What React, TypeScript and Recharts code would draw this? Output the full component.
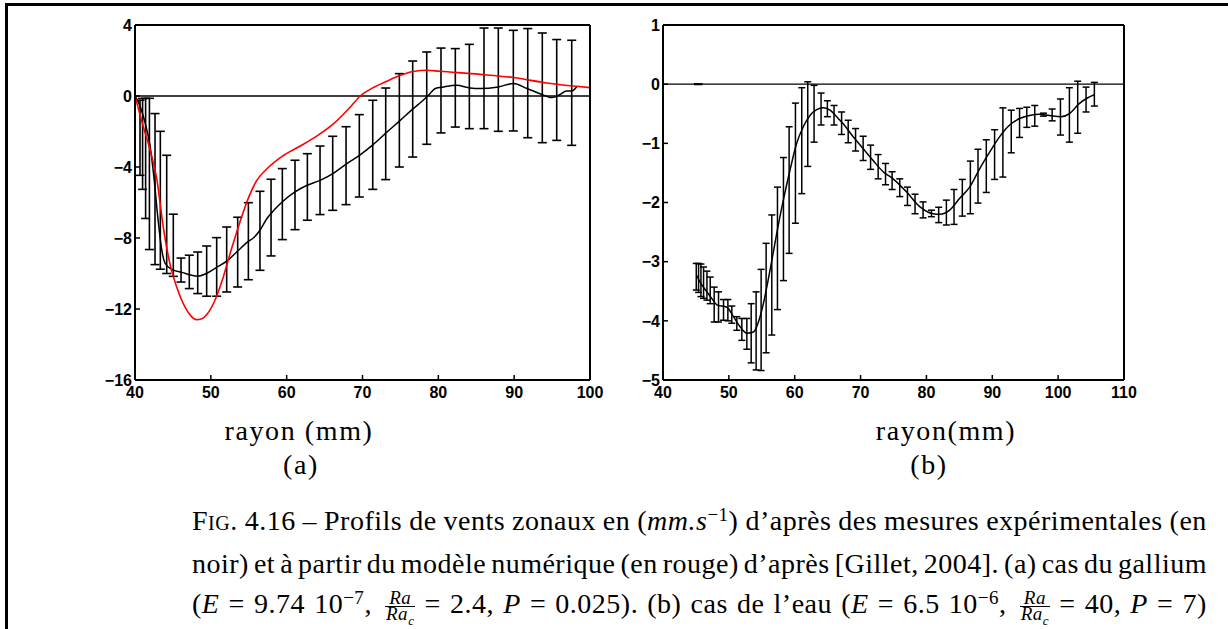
import React from "react";
import { ComposedChart, Line, Scatter, ErrorBar, XAxis, YAxis, ReferenceLine } from "recharts";

// panel (a): gallium
const aXTicks = [40, 50, 60, 70, 80, 90, 100];
const aYTicks = [-16, -12, -8, -4, 0, 4];

const aMeasX = [40, 40.5, 41, 41.5, 42, 42.5, 43, 43.5, 44, 44.8, 46.3, 47.5, 48.3, 49.4, 50.8, 52.1, 53.5, 54.9, 55.6, 56.5, 57.4, 58.4, 59.4, 61.1, 62.7, 64.4, 66.1, 67.8, 69.6, 71.4, 73.1, 74.9, 76.7, 78, 78.7, 79.6, 80.7, 82.4, 84.2, 85.5, 87.9, 89.9, 91.7, 93.4, 95, 96, 96.9, 97.6, 98.3];
const aMeasY = [0, -0.4, -1, -1.8, -2.85, -4.6, -6.8, -8.6, -9.45, -9.75, -9.95, -10.1, -10.15, -10, -9.64, -9.3, -8.75, -8.2, -8, -7.55, -6.9, -6.4, -5.97, -5.4, -5.03, -4.75, -4.37, -3.85, -3.34, -2.74, -2.08, -1.4, -0.71, -0.24, 0.04, 0.42, 0.51, 0.6, 0.45, 0.42, 0.51, 0.7, 0.42, 0.13, -0.09, 0.07, 0.28, 0.28, 0.55];

const aModelX = [40, 41.1, 42, 42.9, 43.7, 44.6, 45.5, 46.6, 47.4, 48.1, 48.8, 49.5, 50.5, 51.6, 52.7, 53.8, 55, 56, 57.4, 59.4, 61.8, 64, 66.2, 68.4, 69.7, 71.4, 73.2, 74.9, 76.7, 78.5, 80.2, 85.5, 89.9, 94.3, 100];
const aModelY = [0, -1.74, -3.06, -4.75, -7.3, -9.44, -10.76, -11.89, -12.4, -12.6, -12.55, -12.3, -11.55, -10.25, -8.65, -7.15, -5.7, -4.8, -4.1, -3.4, -2.82, -2.25, -1.56, -0.62, 0, 0.47, 0.83, 1.15, 1.38, 1.45, 1.39, 1.22, 1.04, 0.73, 0.47];

const aBarX = [40.66, 41, 41.4, 41.9, 42.64, 43.34, 44.18, 45.05, 46.07, 47.16, 48.27, 49.45, 50.77, 52.09, 53.54, 54.95, 56.48, 57.94, 59.43, 61.1, 62.73, 64.4, 66.07, 67.83, 69.58, 71.35, 73.06, 74.86, 76.62, 78.47, 80.35, 82.24, 84.09, 86.02, 87.91, 89.89, 91.79, 93.71, 95.61, 97.59];
const aBarLow = [-4.47, -5.26, -6.9, -8.65, -9.5, -9.76, -10, -10.16, -10.48, -10.85, -11.13, -11.28, -11.28, -11.04, -10.76, -10.35, -9.82, -9.01, -8.09, -7.53, -7, -6.68, -6.44, -6.12, -5.69, -5.26, -4.71, -4, -3.44, -2.72, -2.08, -1.75, -1.84, -1.84, -1.99, -1.97, -2.35, -2.63, -2.5, -2.78];
const aBarHigh = [-0.24, -0.14, -0.13, -0.13, -0.99, -1.99, -3.34, -6.66, -9.13, -8.97, -8.79, -8.45, -7.98, -7.38, -6.83, -6.01, -5.37, -4.69, -4.09, -3.62, -3.25, -2.82, -2.27, -1.73, -1.05, -0.24, 0.45, 1.26, 1.97, 2.48, 2.7, 2.67, 2.91, 3.83, 3.83, 3.7, 3.8, 3.55, 3.18, 3.14];

// panel (b): eau
const bXTicks = [40, 50, 60, 70, 80, 90, 100, 110];
const bYTicks = [-5, -4, -3, -2, -1, 0, 1];

const bMeasX = [45.1, 45.7, 46.67, 47.4, 48.18, 49.7, 50.7, 51.71, 52.73, 53.73, 54.49, 55.24, 56.26, 57.27, 58.27, 59.29, 60.3, 61.3, 62.32, 63.33, 64.33, 65.35, 66.6, 67.36, 68.88, 70.39, 71.91, 73.42, 74.94, 76.97, 78.98, 81, 82, 83.53, 85.05, 86.56, 88.08, 89.6, 91.1, 92.64, 94.15, 95.65, 97.17, 98.68, 100.45, 101.7, 103.2, 104.5, 105.5];
const bMeasY = [-3.23, -3.36, -3.51, -3.62, -3.73, -3.77, -3.93, -4.1, -4.21, -4.19, -4.02, -3.71, -3.14, -2.52, -1.96, -1.45, -1, -0.72, -0.53, -0.43, -0.4, -0.44, -0.58, -0.67, -0.89, -1.09, -1.29, -1.48, -1.6, -1.82, -2.07, -2.19, -2.2, -2.13, -1.93, -1.74, -1.43, -1.15, -0.89, -0.69, -0.58, -0.53, -0.51, -0.53, -0.55, -0.5, -0.33, -0.23, -0.18];

const bStubX = [44.7, 46];
const bStubY = [0, 0];

const bBarX = [45.05, 45.4, 45.76, 46.16, 46.67, 47.17, 47.77, 48.43, 49.19, 49.85, 50.45, 51.21, 51.97, 52.73, 53.39, 54.14, 54.9, 55.66, 56.52, 57.38, 58.29, 59.15, 60.11, 61.07, 61.98, 62.94, 64, 64.96, 65.97, 67.12, 68.12, 69.24, 70.39, 71.52, 72.67, 73.79, 74.79, 75.95, 77.12, 78.27, 79.49, 80.76, 81.86, 83.03, 84.19, 85.45, 86.67, 87.83, 89.09, 90.35, 91.61, 92.88, 94.14, 95.24, 96.45, 97.77, 99.09, 100.35, 101.71, 102.97, 104.24, 105.5];
const bBarLow = [-3.48, -3.52, -3.59, -3.62, -3.65, -3.71, -4.02, -4.02, -3.99, -4, -4.04, -4.16, -4.33, -4.48, -4.71, -4.83, -4.84, -4.54, -4.24, -3.81, -3.32, -2.86, -2.35, -1.85, -1.39, -0.98, -0.69, -0.55, -0.69, -0.85, -0.99, -1.13, -1.29, -1.44, -1.6, -1.7, -1.78, -1.9, -2.05, -2.19, -2.26, -2.24, -2.34, -2.38, -2.37, -2.23, -2.19, -2.01, -1.83, -1.61, -1.57, -1.16, -0.9, -0.73, -0.71, -0.54, -0.62, -0.86, -0.98, -0.83, -0.47, -0.37];
const bBarHigh = [-3.03, -3.03, -3.04, -3.09, -3.16, -3.26, -3.43, -3.51, -3.64, -3.64, -3.75, -3.93, -3.96, -3.96, -3.71, -3.51, -3.13, -2.69, -2.21, -1.74, -1.24, -0.72, -0.32, -0.06, 0.04, -0.02, -0.15, -0.28, -0.36, -0.47, -0.61, -0.75, -0.88, -1.03, -1.19, -1.34, -1.48, -1.6, -1.74, -1.86, -1.99, -2.13, -2.08, -1.96, -1.78, -1.61, -1.3, -1.1, -0.94, -0.77, -0.4, -0.44, -0.41, -0.39, -0.36, -0.49, -0.42, -0.25, -0.06, 0.05, -0.05, 0.03];

const toPoints = (xs: number[], ys: number[]) => xs.map((x, i) => ({ x, y: ys[i] }));
const toBars = (xs: number[], lo: number[], hi: number[]) =>
  xs.map((x, i) => ({ x, y: (lo[i] + hi[i]) / 2, err: (hi[i] - lo[i]) / 2 }));

const minus = (v: number) => (v < 0 ? "\u2212" + Math.abs(v) : String(v));

const tickFont = {
  fill: "#000",
  fontSize: 16,
  fontWeight: "bold",
  fontFamily: '"Liberation Sans", Arial, sans-serif',
};
const axisLine = { stroke: "#000", strokeWidth: 2 };
const tickLine = { stroke: "#000", strokeWidth: 1.5 };

type PanelProps = {
  left: number;
  width: number;
  yAxisWidth: number;
  xDomain: [number, number];
  yDomain: [number, number];
  xTicks: number[];
  yTicks: number[];
  children?: React.ReactNode;
};

// MATLAB-like boxed axes: ticks point inward on all four sides
const Panel = ({ left, width, yAxisWidth, xDomain, yDomain, xTicks, yTicks, children }: PanelProps) => (
  <div style={{ position: "absolute", left, top: 0 }}>
    <ComposedChart width={width} height={410} margin={{ top: 24, right: 29, bottom: 0, left: 0 }}>
      <XAxis
        xAxisId="b"
        dataKey="x"
        type="number"
        domain={xDomain}
        ticks={xTicks}
        allowDataOverflow
        height={30}
        tickSize={-5}
        tickMargin={12}
        axisLine={axisLine}
        tickLine={tickLine}
        tick={tickFont}
      />
      <XAxis
        xAxisId="t"
        orientation="top"
        type="number"
        domain={xDomain}
        ticks={xTicks}
        allowDataOverflow
        height={1}
        tickSize={-5}
        axisLine={axisLine}
        tickLine={tickLine}
        tick={false}
      />
      <YAxis
        yAxisId="l"
        dataKey="y"
        type="number"
        domain={yDomain}
        ticks={yTicks}
        allowDataOverflow
        width={yAxisWidth}
        tickSize={-5}
        tickMargin={8}
        tickFormatter={minus}
        axisLine={axisLine}
        tickLine={tickLine}
        tick={tickFont}
      />
      <YAxis
        yAxisId="r"
        orientation="right"
        type="number"
        domain={yDomain}
        ticks={yTicks}
        allowDataOverflow
        width={1}
        tickSize={-5}
        axisLine={axisLine}
        tickLine={tickLine}
        tick={false}
      />
      <ReferenceLine xAxisId="b" yAxisId="l" y={0} stroke="#000" strokeWidth={1.3} />
      {children}
    </ComposedChart>
  </div>
);

const serif = '"Liberation Serif", "Times New Roman", serif';

const Centered = ({ cx, top, children }: { cx: number; top: number; children: React.ReactNode }) => (
  <div
    style={{
      position: "absolute",
      left: cx - 150,
      top,
      width: 300,
      textAlign: "center",
      fontFamily: serif,
      fontSize: 28,
      lineHeight: "28px",
      letterSpacing: 1.6,
      whiteSpace: "nowrap",
    }}
  >
    {children}
  </div>
);

// one justified caption line: words spread from edge to edge
const CaptionLine = ({ top, words }: { top: number; words: React.ReactNode[] }) => (
  <div
    style={{
      position: "absolute",
      left: 192,
      top,
      width: 1015,
      height: 30,
      display: "flex",
      justifyContent: "space-between",
      alignItems: "baseline",
      fontFamily: serif,
      fontSize: 28,
      lineHeight: "28px",
      letterSpacing: 0.5,
      whiteSpace: "nowrap",
    }}
  >
    {words.map((w, i) =>
      typeof w === "string" ? <span key={i}>{w}</span> : <React.Fragment key={i}>{w}</React.Fragment>
    )}
  </div>
);

const sup = (t: string) => <sup style={{ fontSize: 19, lineHeight: 0, verticalAlign: "0.5em" }}>{t}</sup>;

const Frac = () => (
  <span
    style={{
      display: "flex",
      flexDirection: "column",
      alignItems: "center",
      alignSelf: "flex-start",
      fontSize: 19,
      lineHeight: "14px",
      fontStyle: "italic",
      marginTop: 1,
      marginLeft: 4,
    }}
  >
    <span>Ra</span>
    <span style={{ borderTop: "1.2px solid #000", padding: "0 1px", marginTop: 1 }}>
      Ra<sub style={{ fontSize: 13, lineHeight: 0 }}>c</sub>
    </span>
  </span>
);

const line1: React.ReactNode[] = [
  <span>
    F<span style={{ fontVariant: "small-caps" }}>ig</span>.
  </span>,
  "4.16",
  "\u2013",
  "Profils",
  "de",
  "vents",
  "zonaux",
  "en",
  <span>
    (<i>mm.s</i>
    {sup("\u22121")})
  </span>,
  "d\u2019apr\u00e8s",
  "des",
  "mesures",
  "exp\u00e9rimentales",
  "(en",
];
const line2: React.ReactNode[] = "noir) et \u00e0 partir du mod\u00e8le num\u00e9rique (en rouge) d\u2019apr\u00e8s [Gillet, 2004]. (a) cas du gallium".split(" ");
const line3: React.ReactNode[] = [
  <span>
    (<i>E</i>
  </span>,
  "=",
  "9.74",
  <span>10{sup("\u22127")},</span>,
  <Frac />,
  "=",
  "2.4,",
  <i>P</i>,
  "=",
  "0.025).",
  "(b)",
  "cas",
  "de",
  "l\u2019eau",
  <span>
    (<i>E</i>
  </span>,
  "=",
  "6.5",
  <span>10{sup("\u22126")},</span>,
  <Frac />,
  "=",
  "40,",
  <i>P</i>,
  "=",
  "7)",
];

export default function App() {
  const aMeas = toPoints(aMeasX, aMeasY);
  const aModel = toPoints(aModelX, aModelY);
  const aBars = toBars(aBarX, aBarLow, aBarHigh);
  const bMeas = toPoints(bMeasX, bMeasY);
  const bStub = toPoints(bStubX, bStubY);
  const bBars = toBars(bBarX, bBarLow, bBarHigh);

  return (
    <div style={{ position: "absolute", left: 0, top: 0, width: 1228, height: 629, background: "#fff", overflow: "hidden" }}>
      <div style={{ position: "absolute", left: 5, top: 3, width: 1223, height: 3, background: "#000" }} />
      <div style={{ position: "absolute", left: 5, top: 3, width: 3, height: 626, background: "#000" }} />

      <Panel left={0} width={620} yAxisWidth={135} xDomain={[40, 100]} yDomain={[-16, 4]} xTicks={aXTicks} yTicks={aYTicks}>
        <Scatter xAxisId="b" yAxisId="l" data={aBars} shape={() => <g />} isAnimationActive={false}>
          <ErrorBar dataKey="err" direction="y" width={4.5} stroke="#000" strokeWidth={1.6} isAnimationActive={false} />
        </Scatter>
        <Line xAxisId="b" yAxisId="l" data={aMeas} dataKey="y" type="monotone" stroke="#000" strokeWidth={1.5} dot={false} isAnimationActive={false} />
        <Line xAxisId="b" yAxisId="l" data={aModel} dataKey="y" type="monotone" stroke="#ff0000" strokeWidth={1.6} dot={false} isAnimationActive={false} />
      </Panel>

      <Panel left={620} width={534} yAxisWidth={43} xDomain={[40, 110]} yDomain={[-5, 1]} xTicks={bXTicks} yTicks={bYTicks}>
        <Scatter xAxisId="b" yAxisId="l" data={bBars} shape={() => <g />} isAnimationActive={false}>
          <ErrorBar dataKey="err" direction="y" width={3.5} stroke="#000" strokeWidth={1.5} isAnimationActive={false} />
        </Scatter>
        <Line xAxisId="b" yAxisId="l" data={bStub} dataKey="y" type="linear" stroke="#000" strokeWidth={2.2} dot={false} isAnimationActive={false} />
        <Line xAxisId="b" yAxisId="l" data={bMeas} dataKey="y" type="monotone" stroke="#000" strokeWidth={1.5} dot={false} isAnimationActive={false} />
      </Panel>

      <Centered cx={299} top={416.5}>rayon (mm)</Centered>
      <Centered cx={301} top={450.5}>(a)</Centered>
      <Centered cx={946} top={416.5}>rayon(mm)</Centered>
      <Centered cx={929} top={450.5}>(b)</Centered>

      <CaptionLine top={507} words={line1} />
      <CaptionLine top={549.5} words={line2} />
      <CaptionLine top={590} words={line3} />
    </div>
  );
}
